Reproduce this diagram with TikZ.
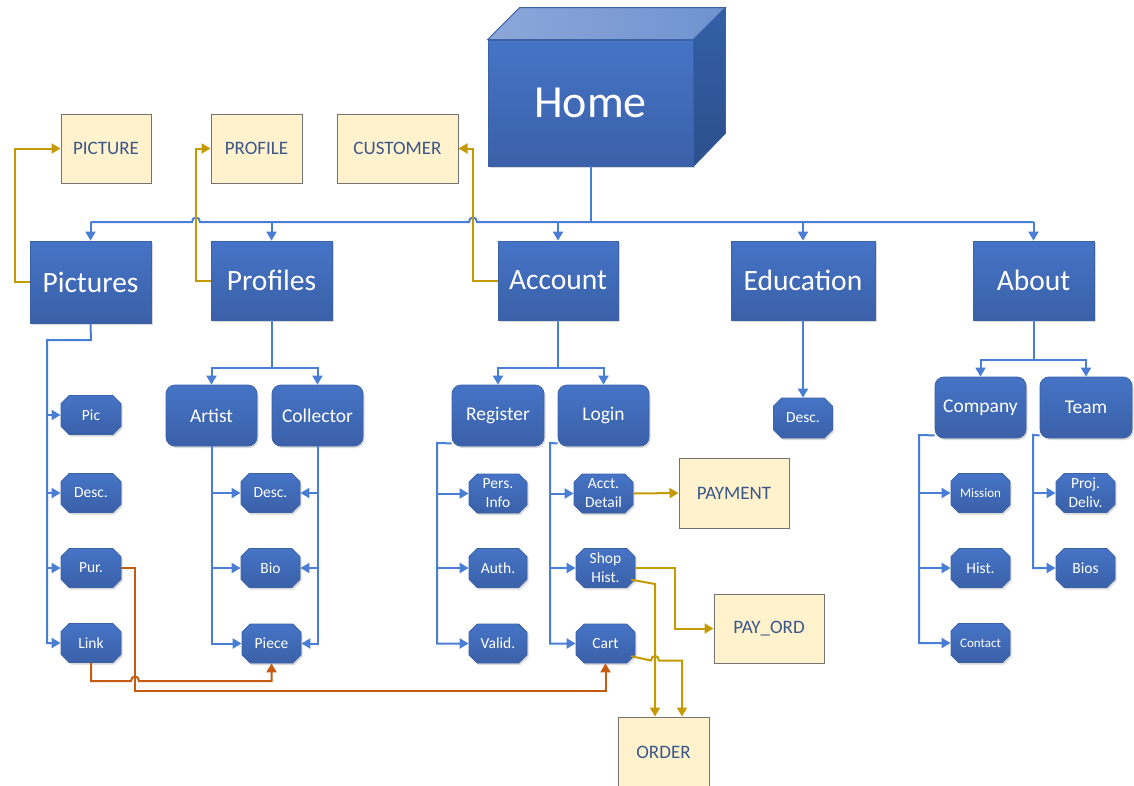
\documentclass[tikz,border=0pt]{standalone}
\usepackage{fontspec}
\setmainfont{Carlito}
\usetikzlibrary{shapes.misc,arrows.meta,shadows}
\definecolor{bA}{HTML}{4674C6}
\definecolor{bB}{HTML}{3A60A8}
\definecolor{bBorder}{HTML}{3C61A6}
\definecolor{lineB}{HTML}{4A7DD4}
\definecolor{gold}{HTML}{C59A00}
\definecolor{orng}{HTML}{C55A11}
\definecolor{cream}{HTML}{FFF2CC}
\definecolor{gtext}{HTML}{3B5689}
\definecolor{topA}{HTML}{8CA8DA}
\definecolor{topB}{HTML}{6F92CF}
\definecolor{sideA}{HTML}{3460A6}
\definecolor{sideB}{HTML}{2C4F8C}
\tikzset{
  bluebox/.style={draw=bBorder, line width=0.8pt, top color=bA, bottom color=bB, text=white, inner sep=0pt, align=center,
    drop shadow={shadow xshift=1.5pt, shadow yshift=-2pt, opacity=0.15, fill=black}},
  bigbox/.style={bluebox, rectangle, font=\fontsize{29.5}{32}\selectfont, minimum height=79pt, minimum width=121pt},
  midbox/.style={bluebox, rectangle, rounded corners=9pt, font=\fontsize{19.5}{22}\selectfont, minimum width=91pt, minimum height=61pt},
  smallbox/.style={bluebox, chamfered rectangle, chamfered rectangle xsep=5pt, chamfered rectangle angle=45, font=\fontsize{15.5}{19}\selectfont, minimum width=60pt, minimum height=39pt},
  tinybox/.style={smallbox, font=\fontsize{13}{15}\selectfont},
  entbox/.style={rectangle, draw=black!55, line width=1pt, fill=cream, text=gtext, font=\fontsize{19}{21}\selectfont, inner sep=0pt, minimum height=69pt},
  bl/.style={draw=lineB, line width=2pt},
  gd/.style={draw=gold, line width=2pt},
  og/.style={draw=orng, line width=2pt},
  tip/.style={-{Triangle[length=9pt,width=10pt]}}
}
\begin{document}
\begin{tikzpicture}[x=1pt,y=-1pt]
\useasboundingbox (0,0) rectangle (1134,785);
% Home 3D box
\node[draw=bBorder, line width=0.8pt, top color=bA, bottom color=bB, text=white, font=\fontsize{46}{50}\selectfont,
  minimum width=205pt, minimum height=126pt, inner sep=0pt,
  drop shadow={shadow xshift=1.5pt, shadow yshift=-2pt, opacity=0.15, fill=black}] (home) at (590.5,103) {Home};
\fill[left color=topA, right color=topB, draw=bBorder, line width=0.8pt] (home.north west) -- ++(32,-32) -- ([shift={(32,-32)}]home.north east) -- (home.north east) -- cycle;
\fill[top color=sideA, bottom color=sideB, draw=bBorder, line width=0.8pt] (home.north east) -- ([shift={(32,-32)}]home.north east) -- ([shift={(32,-33)}]home.south east) -- (home.south east) -- cycle;
% entity boxes
\node[entbox, minimum width=90pt] (picture) at (106,148.5) {PICTURE};
\node[entbox, minimum width=91pt] (profile) at (256.5,148.5) {PROFILE};
\node[entbox, minimum width=121pt] (customer) at (397.5,148.5) {CUSTOMER};
\node[entbox, minimum width=110pt, minimum height=70pt] (payment) at (734,493) {PAYMENT};
\node[entbox, minimum width=110pt] (payord) at (769,628.5) {PAY\_ORD};
\node[entbox, minimum width=91pt, minimum height=70pt] (order) at (663.5,752) {ORDER};
% level 1
\node[bigbox, minimum height=82pt] (pictures) at (90.5,282) {Pictures};
\node[bigbox] (profiles) at (271.5,280.5) {Profiles};
\node[bigbox, minimum width=120pt] (account) at (558,280.5) {Account};
\node[bigbox, minimum width=144pt] (education) at (803,280.5) {Education};
\node[bigbox] (about) at (1033.5,280.5) {About};
% level 2
\node[midbox] (artist) at (211.5,415.5) {Artist};
\node[midbox] (collector) at (317.5,415.5) {Collector};
\node[midbox, minimum width=92pt] (register) at (498,415.5) {Register};
\node[midbox] (login) at (603.5,415.5) {Login};
\node[midbox] (company) at (980.5,407.5) {Company};
\node[midbox, minimum width=92pt] (team) at (1086,407.5) {Team};
% small boxes
\node[smallbox] (pic) at (91,415) {Pic};
\node[smallbox] (pdesc) at (91,493) {Desc.};
\node[smallbox] (pur) at (91,568) {Pur.};
\node[smallbox] (link) at (91,643) {Link};
\node[smallbox, minimum width=59pt] (adesc) at (270.5,493) {Desc.};
\node[smallbox, minimum width=59pt] (bio) at (270.5,568) {Bio};
\node[smallbox, minimum width=59pt] (piece) at (271.5,643.5) {Piece};
\node[smallbox, minimum width=58pt] (pers) at (498,493.5) {Pers.\\Info};
\node[smallbox, minimum width=58pt] (auth) at (498,568) {Auth.};
\node[smallbox, minimum width=58pt] (valid) at (498,643.5) {Valid.};
\node[smallbox, minimum width=59pt] (acct) at (603.5,493.5) {Acct.\\Detail};
\node[smallbox, minimum width=59pt] (shop) at (605.5,568) {Shop\\Hist.};
\node[smallbox, minimum width=59pt] (cart) at (605.5,643.5) {Cart};
\node[smallbox, minimum width=59pt, minimum height=40pt] (edesc) at (803,418) {Desc.};
\node[tinybox, minimum width=59pt] (mission) at (980.5,493) {Mission};
\node[smallbox, minimum width=59pt] (hist) at (980.5,568) {Hist.};
\node[tinybox, minimum width=59pt] (contact) at (980.5,643) {Contact};
\node[smallbox, minimum width=59pt] (proj) at (1085.5,493) {Proj.\\Deliv.};
\node[smallbox, minimum width=59pt] (bios) at (1085.5,568) {Bios};
% bus from Home
\coordinate (busy) at (0,222);
\draw[bl] (home.south) -- (home.south |- busy);
\draw[bl] (pictures.north |- busy) -- (192,222) .. controls (192,216) and (200,216) .. (200,222)
  -- (469,222) .. controls (469,216) and (477,216) .. (477,222) -- (about.north |- busy);
\foreach \n in {pictures,profiles,account,education,about}
  \draw[bl,tip] (\n.north |- busy) -- (\n.north);
% gold to entities
\draw[gd,tip] (pictures.west) -- (15,282) |- (picture.west);
\draw[gd,tip] (profiles.west) -- (196,280.5) |- (profile.west);
\draw[gd,tip] (account.west) -- (473,280.5) |- (customer.east);
% Pictures children
\draw[bl,tip] (pictures.south) -- (91,340) -- (47,340) |- (link.west);
\foreach \n in {pic,pdesc,pur} \draw[bl,tip] (47,0 |- \n.west) -- (\n.west);
% Profiles children
\draw[bl] (profiles.south) -- (271.5,368);
\draw[bl,tip] (271.5,368) -| (artist.north);
\draw[bl,tip] (271.5,368) -| (collector.north);
\draw[bl,tip] (artist.south) |- (piece.west);
\foreach \n in {adesc,bio} \draw[bl,tip] (artist.south |- \n.west) -- (\n.west);
\draw[bl,tip] (collector.south) |- (piece.east);
\foreach \n in {adesc,bio} \draw[bl,tip] (collector.south |- \n.east) -- (\n.east);
% orange links
\draw[og,tip] (pur.east) -- (135,568) -- (135,690.5) -| (cart.south);
\draw[og,tip] (link.south) -- (91,681) -- (131,681) .. controls (131,675) and (139,675) .. (139,681) -| (piece.south);
% Account children
\draw[bl] (account.south) -- (558,368);
\draw[bl,tip] (558,368) -| (register.north);
\draw[bl,tip] (558,368) -| (login.north);
\draw[bl,tip] ([yshift=3pt]register.south west) -- (437,443) |- (valid.west);
\foreach \n in {pers,auth} \draw[bl,tip] (437,0 |- \n.west) -- (\n.west);
\draw[bl,tip] ([yshift=3pt]login.south west) -- (550,443) |- (cart.west);
\foreach \n in {acct,shop} \draw[bl,tip] (550,0 |- \n.west) -- (\n.west);
% gold from account children
\draw[gd,tip] (acct.east) -- (payment.west);
\draw[gd,tip] (shop.east) -- (675,568) |- (payord.west);
\draw[gd,tip] ([yshift=4pt]shop.south east) -- (655,584) -- (655,0 |- order.north);
\draw[gd,tip] ([yshift=3pt]cart.south east) -- (651,660.5) .. controls (651,654.5) and (659,654.5) .. (659,660.5) -- (682,660.5) -- (682,0 |- order.north);
% Education
\draw[bl,tip] (education.south) -- (edesc.north);
% About children
\draw[bl] (about.south) -- (1033.5,360);
\draw[bl,tip] (1033.5,360) -| (company.north);
\draw[bl,tip] (1033.5,360) -| (team.north);
\draw[bl,tip] ([yshift=3pt]company.south west) -- (919,435) |- (contact.west);
\foreach \n in {mission,hist} \draw[bl,tip] (919,0 |- \n.west) -- (\n.west);
\draw[bl,tip] ([yshift=3pt]team.south west) -- (1033,435) |- (bios.west);
\draw[bl,tip] (1033,0 |- proj.west) -- (proj.west);
\end{tikzpicture}
\end{document}
